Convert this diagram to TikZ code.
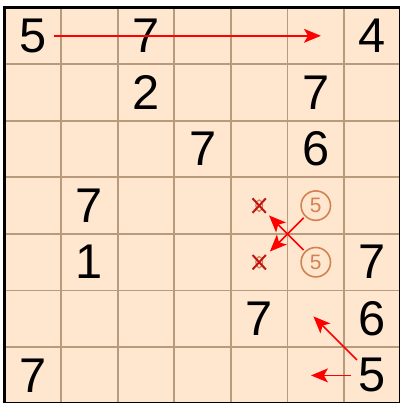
\documentclass[tikz,border=0pt]{standalone}
\usepackage{fontspec}
\setmainfont{Liberation Sans}
\usetikzlibrary{arrows.meta,positioning,shapes.misc}
\definecolor{cellfill}{RGB}{255,230,207}
\definecolor{gridtan}{RGB}{184,154,124}
\definecolor{candorange}{RGB}{210,130,80}
\definecolor{xred}{RGB}{195,20,20}

\begin{document}
\begin{tikzpicture}[
  given/.style={inner sep=1pt, font=\fontsize{24.5}{24.5}\selectfont},
  cand/.style={circle, draw=candorange, text=candorange, line width=0.8pt, minimum size=0.52cm, inner sep=0pt, font=\fontsize{10.5}{10.5}\selectfont},
  gone/.style={cross out, draw=xred, line width=1pt, minimum width=0.2cm, minimum height=0.22cm, inner sep=0pt},
  move/.style={draw=red, line width=0.8pt, -{Stealth[length=8.5pt,width=7pt,inset=2pt]}}]
\useasboundingbox (-0.0795,0.1325) rectangle (6.970,-6.9875);
\fill[cellfill] (0,0) rectangle (7,-7);
\draw[gridtan, line width=0.9pt] (0,-7) grid (7,0);
\draw[line width=2pt] (0,0) rectangle (7,-7);
% cell centres
\foreach \r in {0,...,6}
  \foreach \c in {0,...,6}
    \coordinate (c\r\c) at (\c+0.5,-\r-0.5);
% givens
\foreach \r/\c/\v in {0/0/5, 0/2/7, 0/6/4, 1/2/2, 1/5/7, 2/3/7, 2/5/6, 3/1/7,
                      4/1/1, 4/6/7, 5/4/7, 5/6/6, 6/0/7, 6/6/5}
  \node[given] (n\r\c) at (c\r\c) {\v};
% candidates
\node[cand] (p35) at (c35) {5};
\node[cand] (p45) at (c45) {5};
\draw[candorange, line width=0.6pt] (c34) ellipse (0.06 and 0.1);
\draw[candorange, line width=0.6pt] (c44) ellipse (0.06 and 0.1);
\node[gone] (x34) at (c34) {};
\node[gone] (x44) at (c44) {};
% moves
\draw[move, shorten <=0.375cm, shorten >=-0.09cm] (c00) -- (c05);
\draw[move, shorten <=0.03cm, shorten >=0.1cm] (p35) -- (x44);
\draw[move, shorten <=0.03cm, shorten >=0.08cm] (p45) -- (x34);
\draw[move, shorten <=0.385cm, shorten >=-0.06cm] (c66) -- (c55);
\draw[move, shorten <=0.378cm, shorten >=-0.085cm] (c66) -- (c65);
\end{tikzpicture}
\end{document}
